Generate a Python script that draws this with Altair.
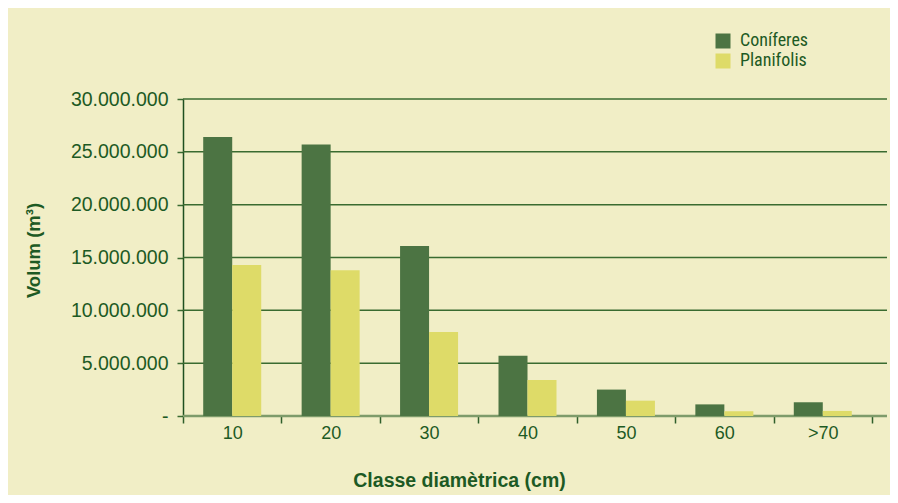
import altair as alt
import pandas as pd

classes = ["10", "20", "30", "40", "50", "60", ">70"]
series = ["Coníferes", "Planifolis"]
coniferes = [26400000, 25700000, 16100000, 5700000, 2500000, 1100000, 1300000]
planifolis = [14300000, 13800000, 7950000, 3400000, 1450000, 450000, 480000]
y_ticks = [0, 5000000, 10000000, 15000000, 20000000, 25000000, 30000000]

rows = []
for i, c in enumerate(classes):
    rows.append({"classe": c, "tipus": series[0], "volum": coniferes[i]})
    rows.append({"classe": c, "tipus": series[1], "volum": planifolis[i]})
df = pd.DataFrame(rows)
grid_df = pd.DataFrame({"volum": y_ticks})

TXT = "#1d5a24"
BG = "#f1eec6"
FONT = "Liberation Sans"
NARROW = "Liberation Sans Narrow, Arial Narrow, Roboto Condensed, sans-serif"
W, H = 704, 317

yscale = alt.Scale(domain=[0, 30000000], nice=False)
yaxis = alt.Axis(
    title="Volum (m³)",
    titleFont=FONT, titleFontSize=18.5, titleFontWeight="bold", titleColor=TXT,
    titleX=-150, titleY=151, titleBaseline="middle", titleAlign="center", titleAngle=-90,
    values=y_ticks,
    labelExpr="datum.value == 0 ? '-' : join(split(format(datum.value, ','), ','), '.')",
    labelFont=FONT, labelFontSize=19.5, labelColor=TXT, labelPadding=9,
    domain=True, domainColor="#1f4f1f", domainWidth=1.5,
    ticks=True, tickSize=6, tickColor="#3a6b30", tickWidth=1.5,
    grid=False,
)

grid = alt.Chart(grid_df).mark_rule().encode(
    y=alt.Y("volum:Q", scale=yscale, axis=yaxis),
    x=alt.value(0),
    x2=alt.value(W),
    color=alt.condition(alt.datum.volum == 0, alt.value("#7e9b6a"), alt.value("#3a6b30")),
    strokeWidth=alt.condition(alt.datum.volum == 0, alt.value(2.5), alt.value(1.5)),
)

bars = alt.Chart(df).mark_bar().encode(
    x=alt.X(
        "classe:N",
        sort=classes,
        scale=alt.Scale(range=[0, 689], paddingInner=0, paddingOuter=0),
        axis=alt.Axis(
            title="Classe diamètrica (cm)",
            titleFont=FONT, titleFontSize=19.5, titleFontWeight="bold", titleColor=TXT,
            titleX=276, titleY=64, titleBaseline="middle", titleAlign="center",
            labelFont=FONT, labelFontSize=18, labelColor=TXT, labelAngle=0,
            labelPadding=1,
            domain=False, grid=False,
            tickBand="extent", ticks=True, tickSize=7, tickColor="#2f5f2a", tickWidth=1.5,
        ),
    ),
    xOffset=alt.XOffset("tipus:N", sort=series, scale=alt.Scale(paddingInner=0, paddingOuter=0.697)),
    y=alt.Y("volum:Q", scale=yscale, axis=yaxis),
    color=alt.Color(
        "tipus:N",
        sort=series,
        scale=alt.Scale(domain=series, range=["#4c7443", "#dedb68"]),
        legend=alt.Legend(
            title=None, orient="none", legendX=531, legendY=-67,
            symbolType="square", symbolSize=225, symbolStrokeWidth=0,
            symbolOpacity=1,
            labelFont=NARROW, labelFontSize=18, labelColor=TXT,
            labelOffset=8, rowPadding=2,
        ),
    ),
)

chart = alt.layer(grid, bars).properties(
    width=W,
    height=H,
    background=BG,
    autosize=alt.AutoSizeParams(type="none"),
    padding={"left": 175, "top": 91, "right": 3, "bottom": 79},
).configure_view(stroke=None)

chart.save("out.html", embed_options={"renderer": "svg", "actions": False})
